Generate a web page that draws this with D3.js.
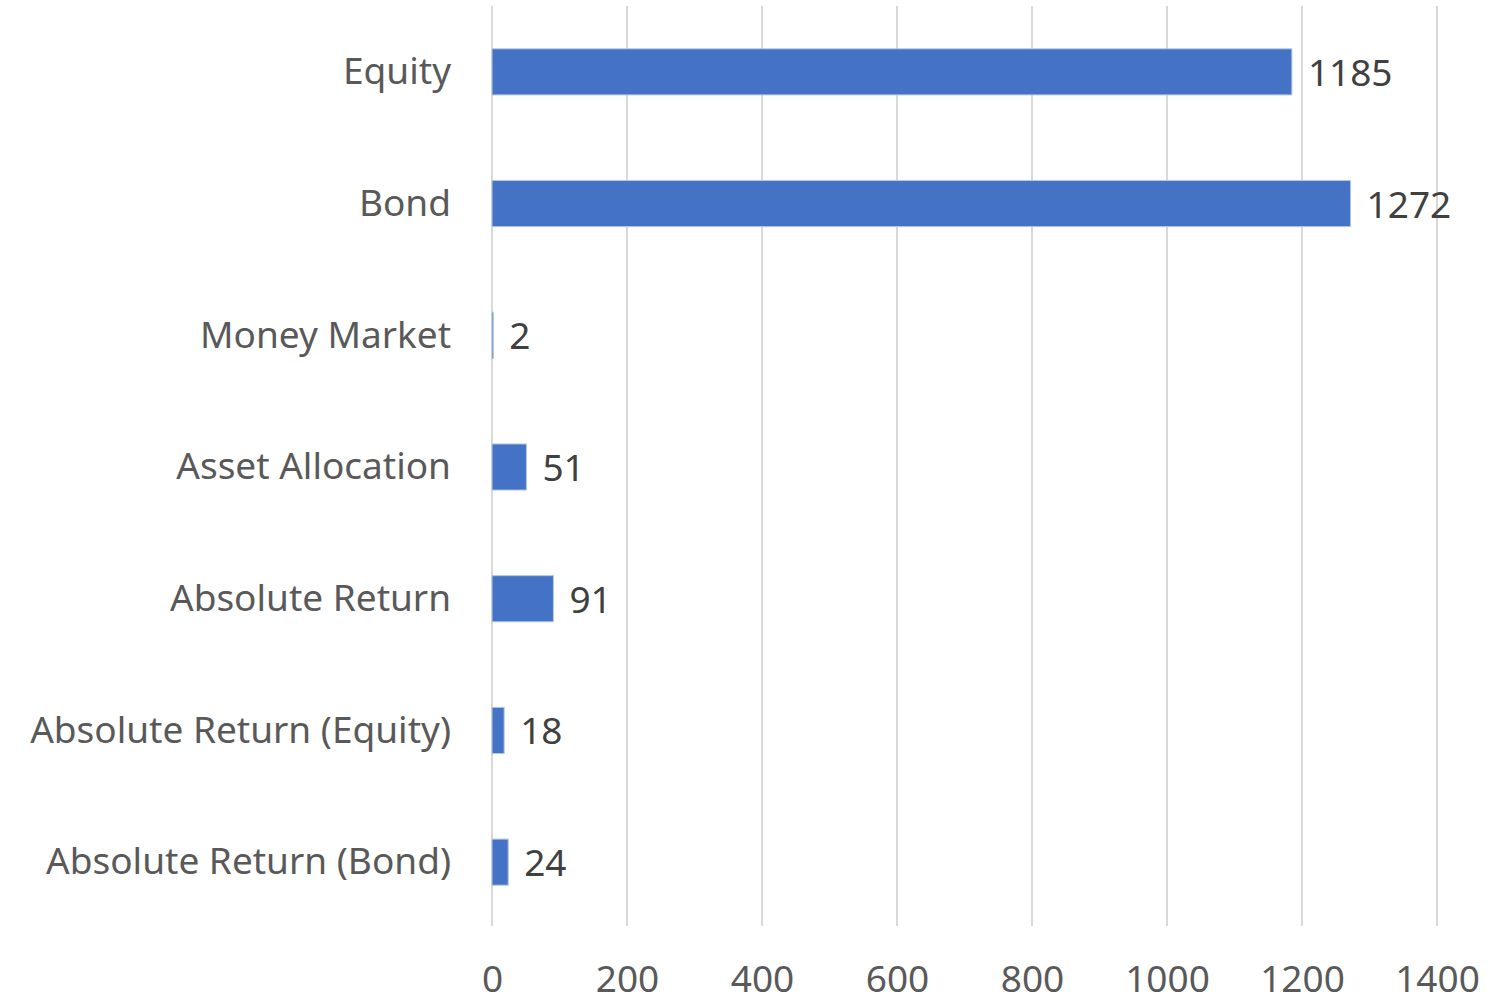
<!DOCTYPE html>
<html>
<head>
<meta charset="utf-8">
<script src="https://cdn.jsdelivr.net/npm/d3@7"></script>
<style>
  body { margin: 0; background: #fff; }
  text { font-family: 'Noto Sans', sans-serif; }
</style>
</head>
<body>
<script>
var categories = ['Equity', 'Bond', 'Money Market', 'Asset Allocation',
  'Absolute Return', 'Absolute Return (Equity)', 'Absolute Return (Bond)'];
var counts = [1185, 1272, 2, 51, 91, 18, 24];
var ticks = [0, 200, 400, 600, 800, 1000, 1200, 1400];

var w = 1490,
    h = 1003;

var BAR_COLOR = '#4472c4';
var GRID_COLOR = '#d9d9d9';
var LABEL_COLOR = '#595959';
var VALUE_COLOR = '#404040';
var FONT_SIZE = 37;

var svg = d3.select('body').append('svg')
  .attr('width', w)
  .attr('height', h);

var x = d3.scaleLinear()
  .domain([0, 1400])
  .range([492, 1437]);

var y = d3.scaleBand()
  .domain(categories)
  .range([6, 928])
  .paddingInner(0.65)
  .paddingOuter(0.325);

// vertical grid lines
svg.append('g').selectAll('line')
    .data(ticks)
  .enter().append('line')
    .attr('x1', function(d) { return x(d); })
    .attr('x2', function(d) { return x(d); })
    .attr('y1', 6)
    .attr('y2', 926)
    .attr('stroke', GRID_COLOR)
    .attr('stroke-width', 2);

// bars
svg.append('g').selectAll('rect')
    .data(counts)
  .enter().append('rect')
    .attr('x', x(0))
    .attr('y', function(d, i) { return y(categories[i]); })
    .attr('width', function(d) { return x(d) - x(0); })
    .attr('height', y.bandwidth())
    .attr('fill', BAR_COLOR)
    .attr('stroke', '#b4c7e7')
    .attr('stroke-width', 1);

// value labels
svg.append('g').selectAll('text')
    .data(counts)
  .enter().append('text')
    .attr('x', function(d) { return x(d) + 16; })
    .attr('y', function(d, i) { return y(categories[i]) + y.bandwidth() / 2; })
    .attr('dy', '0.38em')
    .attr('fill', VALUE_COLOR)
    .style('font-size', FONT_SIZE + 'px')
    .text(function(d) { return d; });

// category axis (no line, no ticks)
var yAxis = svg.append('g')
  .attr('transform', 'translate(451,0)')
  .call(d3.axisLeft(y).tickSize(0).tickPadding(0));
yAxis.select('.domain').remove();
yAxis.selectAll('text')
  .attr('fill', LABEL_COLOR)
  .attr('dy', '0.33em')
  .style('font-size', FONT_SIZE + 'px')
  .style('font-family', "'Noto Sans', sans-serif");

// value axis
var xAxis = svg.append('g')
  .attr('transform', 'translate(0,966)')
  .call(d3.axisBottom(x).tickValues(ticks).tickFormat(d3.format('d'))
    .tickSize(0).tickPadding(0));
xAxis.select('.domain').remove();
xAxis.selectAll('text')
  .attr('fill', LABEL_COLOR)
  .attr('dy', '0.71em')
  .style('font-size', FONT_SIZE + 'px')
  .style('font-family', "'Noto Sans', sans-serif");
</script>
</body>
</html>
